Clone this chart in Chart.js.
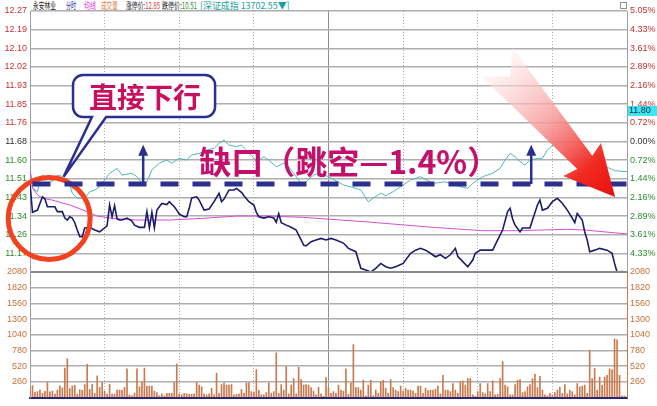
<!DOCTYPE html>
<html>
<head>
<meta charset="utf-8">
<script src="https://cdn.jsdelivr.net/npm/chart.js@4.4.0/dist/chart.umd.min.js"></script>
<style>
html,body{margin:0;padding:0;background:#fff;}
#wrap{position:relative;width:657px;height:406px;overflow:hidden;font-family:"Noto Sans CJK SC","Noto Sans",sans-serif;}
#pc{position:absolute;left:0;top:0;}
#vc{position:absolute;left:0;top:262px;}
.t{position:absolute;top:0;font-size:9.5px;line-height:10px;white-space:nowrap;transform-origin:left top;}
#box{position:absolute;left:620px;top:2px;width:5px;height:5px;border:1px solid #909090;}
</style>
</head>
<body>
<div id="wrap">
  <div class="t" data-w="23" style="left:33px;color:#222">永安林业</div>
  <div class="t" data-w="10" style="left:66px;color:#2a2a9a">分时</div>
  <div class="t" data-w="12" style="left:84px;color:#d83cd8">均线</div>
  <div class="t" data-w="17" style="left:101px;color:#e07a3a">成交量</div>
  <div class="t" data-w="34" style="left:126px;color:#222">涨停价:<span style="color:#e03030">12.85</span></div>
  <div class="t" data-w="35" style="left:162px;color:#222">跌停价:<span style="color:#2a8a2a">10.51</span></div>
  <div class="t" data-w="90" style="left:200px;color:#1aa0a0">[深证成指 13702.55▼]</div>
  <div id="box"></div>
  <canvas id="pc" width="657" height="282"></canvas>
  <canvas id="vc" width="657" height="144"></canvas>
</div>
<script>
// ---- data ----
const prevClose = 11.68;
const priceMin = [0,1,3,5,6,7,10,11,13,14,15,16,17,18,19,20,21,22,24,26,28,30,31,32,33,34,35,36,37,39,41,42,44,46,47,48,49,50,51,52,53,55,56,58,59,60,62,63,64,65,67,68,70,72,74,76,77,78,80,82,83,85,86,88,90,91,92,94,96,98,99,100,101,103,105,107,108,109,110,111,113,115,117,119,121,123,126,128,131,133,135,137,139,141,143,145,147,150,153,155,157,159,161,163,165,167,169,171,172,174,176,178,179,181,186,188,190,192,193,194,195,197,198,201,202,204,205,206,208,210,212,214,216,218,219,220,222,223,224,225,227,229,232,234,235,236,238,240];
const priceVal = [11.49,11.36,11.37,11.43,11.42,11.385,11.385,11.363,11.363,11.334,11.325,11.34,11.334,11.313,11.28,11.25,11.25,11.289,11.292,11.28,11.272,11.289,11.30,11.393,11.34,11.39,11.33,11.325,11.325,11.334,11.32,11.302,11.292,11.292,11.363,11.29,11.36,11.29,11.37,11.385,11.40,11.395,11.408,11.385,11.37,11.352,11.34,11.34,11.378,11.425,11.43,11.415,11.37,11.375,11.408,11.446,11.408,11.42,11.461,11.461,11.468,11.45,11.435,11.408,11.393,11.36,11.34,11.334,11.34,11.334,11.315,11.354,11.313,11.302,11.292,11.28,11.257,11.235,11.212,11.208,11.227,11.235,11.242,11.235,11.242,11.235,11.221,11.197,11.182,11.107,11.099,11.09,11.107,11.129,11.114,11.107,11.114,11.129,11.175,11.189,11.197,11.189,11.175,11.159,11.168,11.152,11.168,11.197,11.16,11.137,11.114,11.144,11.175,11.189,11.189,11.235,11.28,11.363,11.378,11.33,11.302,11.272,11.289,11.289,11.325,11.393,11.415,11.37,11.378,11.408,11.423,11.401,11.37,11.334,11.313,11.354,11.325,11.272,11.235,11.182,11.189,11.197,11.189,11.175,11.129,11.09,11.092,11.09];
const avgMin = [0,1,3,5,9,16,23,27,33,43,56,70,83,96,110,135,162,182,196,216,223,240];
const avgVal = [11.55,11.47,11.44,11.423,11.415,11.393,11.363,11.343,11.333,11.325,11.325,11.333,11.343,11.343,11.337,11.317,11.292,11.277,11.277,11.283,11.28,11.262];
const idxMin = [0,1,3,4,5,7,9,10,12,14,16,17,19,22,24,26,28,32,35,37,41,43,45,47,49,52,55,57,60,63,65,68,71,74,76,78,80,83,85,87,90,91,94,96,99,102,104,107,109,111,114,116,120,126,131,133,136,138,141,143,146,148,153,157,162,167,173,176,178,182,186,189,191,193,195,197,199,201,204,206,208,211,214,217,219,222,225,227,230,233,235,240];
const idxPct = [-1.04,-1.80,-1.94,-1.49,-1.30,-1.42,-1.56,-1.36,-1.30,-1.49,-1.68,-2.00,-2.19,-2.19,-1.95,-1.88,-1.75,-1.23,-1.04,-1.30,-1.23,-1.36,-1.62,-1.56,-1.10,-0.84,-0.72,-0.84,-0.65,-0.72,-0.52,-0.46,-0.33,-0.26,-0.07,0.06,-0.14,-0.20,-0.14,-0.33,-0.65,-0.78,-0.59,-0.72,-0.98,-0.84,-0.98,-1.36,-1.62,-1.56,-1.30,-1.23,-1.36,-1.68,-1.81,-1.88,-2.33,-2.19,-2.00,-2.10,-1.94,-1.81,-1.49,-1.36,-1.62,-1.56,-1.75,-1.81,-1.62,-1.36,-1.23,-1.04,-0.72,-0.46,-0.59,-0.78,-0.91,-0.72,-0.65,-0.65,-0.33,-0.07,-0.01,-0.26,-0.46,-0.59,-0.91,-1.04,-0.91,-1.04,-1.13,-1.17];
const volume = [
  120,200,90,100,130,70,105,250,95,110,60,125,195,160,490,640,150,190,205,60,130,120,215,550,135,220,70,360,170,250,110,60,220,60,60,125,125,125,170,475,45,30,72,475,180,255,490,190,190,190,110,85,30,62,30,72,72,72,250,555,60,
  46,72,62,56,56,62,250,207,180,62,46,62,153,46,405,72,217,240,207,207,217,46,56,62,137,72,244,244,99,90,464,126,46,46,83,244,72,99,743,72,217,126,512,62,207,314,62,502,298,207,217,207,164,110,46,169,62,19,330,164,72,99,72,207,126,110,475,56,244,877,164,164,126,287,30,207,287,30,126,72,260,287,153,72,298,164,126,99,190,110,153,126,126,110,72,190,
  190,72,153,115,126,126,142,190,62,367,126,126,99,233,126,72,260,276,207,314,314,46,19,99,233,83,62,233,99,276,46,56,314,598,207,180,46,46,217,287,298,83,99,180,217,314,384,164,351,126,46,30,72,46,83,126,169,72,217,62,126,99,46,233,180,190,207,72,781,314,486,126,341,207,341,367,475,459,974,958,367,30,25,15
];
const priceTickLabels = ['12.27','12.19','12.10','12.02','11.93','11.85','11.76','11.68','11.60','11.51','11.43','11.34','11.26','11.17',''];
const pctTickLabels = ['5.05%','4.33%','3.61%','2.89%','2.16%','1.44%','0.72%','0.00%','0.72%','1.44%','2.16%','2.89%','3.61%','4.33%',''];
const volTickLabels = ['2080','1820','1560','1300','1040','780','520','260',''];
const lastPrice = 11.80;

// annotation anchors (minute, price)
const gapPrice = 11.488, gapText = '缺口（跳空—1.4%）', gapTextAt = [68, 11.587];
const upArrows = [45.5, 201.5], upArrowTop = 11.665;
const ringAt = [7.7, 11.332];
const bubble = {l: 17.3, r: 74.4, top: 11.981, bottom: 11.791, tail: [24.9, 30.6], tip: [13.5, 11.52], text: '直接下行'};
const bigArrow = {from: [187.7, 12.039], to: [235.2, 11.429]};

// squeeze header texts to the widths seen in the picture
document.querySelectorAll('.t').forEach(el => {
  el.style.transform = 'scaleX(' + (el.dataset.w / el.offsetWidth) + ')';
});

Chart.defaults.font.family = '"Liberation Sans", Arial, sans-serif';
Chart.defaults.font.size = 9;

const hi = prevClose * 1.0505, lo = prevClose * (1 - 0.0505);
const ink = '#2b2f8f';
const evenTicks = n => s => {
  s.ticks = Array.from({length: n + 1}, (_, i) => ({value: s.min + i * (s.max - s.min) / n}));
};
const fix30 = s => { s.width = 30; };
const sideColor = i => i < 7 ? '#c83232' : (i === 7 ? '#303030' : '#2e8b2e');
const xGrid = {
  type: 'linear', min: 0, max: 240, offset: false,
  ticks: {display: false, stepSize: 30},
  grid: {drawTicks: false, offset: false, lineWidth: 1,
    color: c => { const v = c.tick && c.tick.value; return (v === 0 || v === 240) ? 'rgba(0,0,0,0)' : (v === 120 ? '#8e8e8e' : '#b0b0b0'); }},
  border: {display: false, dash: c => (c.tick && c.tick.value === 120) ? [] : [1, 2]}
};

const notes = {
  id: 'notes',
  afterDraw(chart) {
    const {ctx, scales} = chart;
    const X = m => scales.x.getPixelForValue(m), Y = p => scales.y.getPixelForValue(p);
    ctx.save();

    // red ring round the opening drop
    ctx.strokeStyle = '#f2421f'; ctx.lineWidth = 5;
    ctx.beginPath(); ctx.arc(X(ringAt[0]), Y(ringAt[1]), 41, 0, 2 * Math.PI); ctx.stroke();

    // gap level
    const gy = Y(gapPrice);
    ctx.strokeStyle = ink; ctx.lineWidth = 5; ctx.setLineDash([18, 14]);
    ctx.beginPath(); ctx.moveTo(X(1), gy); ctx.lineTo(X(240), gy); ctx.stroke();
    ctx.setLineDash([]);

    // up arrows
    ctx.fillStyle = ink; ctx.lineWidth = 2.5;
    upArrows.forEach(m => {
      const ax = X(m), ty = Y(upArrowTop);
      ctx.beginPath(); ctx.moveTo(ax, gy); ctx.lineTo(ax, ty + 8); ctx.stroke();
      ctx.beginPath(); ctx.moveTo(ax, ty); ctx.lineTo(ax - 5, ty + 11); ctx.lineTo(ax + 5, ty + 11); ctx.closePath(); ctx.fill();
    });

    // gap caption
    ctx.fillStyle = '#c4106c'; ctx.font = 'bold 32px "Noto Sans CJK SC"';
    ctx.textBaseline = 'middle'; ctx.textAlign = 'left';
    ctx.fillText(gapText, X(gapTextAt[0]), Y(gapTextAt[1]));

    // speech bubble
    const l = X(bubble.l), r = X(bubble.r), t = Y(bubble.top), b = Y(bubble.bottom), rad = 10;
    ctx.beginPath();
    ctx.moveTo(l + rad, t); ctx.lineTo(r - rad, t); ctx.arcTo(r, t, r, t + rad, rad);
    ctx.lineTo(r, b - rad); ctx.arcTo(r, b, r - rad, b, rad);
    ctx.lineTo(X(bubble.tail[1]), b); ctx.lineTo(X(bubble.tip[0]), Y(bubble.tip[1])); ctx.lineTo(X(bubble.tail[0]), b);
    ctx.lineTo(l + rad, b); ctx.arcTo(l, b, l, b - rad, rad);
    ctx.lineTo(l, t + rad); ctx.arcTo(l, t, l + rad, t, rad);
    ctx.closePath();
    ctx.fillStyle = '#fff'; ctx.fill();
    ctx.strokeStyle = ink; ctx.lineWidth = 2.5; ctx.stroke();
    ctx.fillStyle = '#c8105e'; ctx.font = 'bold 28px "Noto Sans CJK SC"'; ctx.textAlign = 'center';
    ctx.fillText(bubble.text, (l + r) / 2 + 1, (t + b) / 2 + 1);

    // big red arrow
    const fx = X(bigArrow.from[0]), fy = Y(bigArrow.from[1]), tx = X(bigArrow.to[0]), ty = Y(bigArrow.to[1]);
    const len = Math.hypot(tx - fx, ty - fy), ux = (tx - fx) / len, uy = (ty - fy) / len, nx = -uy, ny = ux;
    const P = (s, w) => [fx + ux * s + nx * w, fy + uy * s + ny * w];
    const shape = [P(0, 21), P(20, 0), P(0, -21), P(len - 46, -10), P(len - 50, -25), P(len, 0), P(len - 50, 25), P(len - 46, 10)];
    const grad = ctx.createLinearGradient(fx, fy, tx, ty);
    grad.addColorStop(0, 'rgba(255,240,240,0.5)');
    grad.addColorStop(0.45, 'rgba(246,150,150,0.85)');
    grad.addColorStop(0.78, '#f02a22');
    grad.addColorStop(1, '#e8100c');
    ctx.beginPath(); shape.forEach((p, i) => i ? ctx.lineTo(p[0], p[1]) : ctx.moveTo(p[0], p[1])); ctx.closePath();
    ctx.fillStyle = grad; ctx.fill();

    // last price tag on the right axis
    const ly = Y(lastPrice);
    ctx.fillStyle = '#3fe3f2'; ctx.fillRect(scales.x.right + 1, ly - 9, 30, 10);
    ctx.fillStyle = '#103040'; ctx.font = '9px "Liberation Sans"'; ctx.textAlign = 'left';
    ctx.fillText(lastPrice.toFixed(2), scales.x.right + 2, ly - 4);
    ctx.restore();
  }
};

new Chart(document.getElementById('pc'), {
  type: 'line',
  data: {datasets: [
    {data: priceMin.map((m, i) => ({x: m, y: priceVal[i]})), borderColor: '#1c1c6a', borderWidth: 1.6, pointRadius: 0, yAxisID: 'y'},
    {data: avgMin.map((m, i) => ({x: m, y: avgVal[i]})), borderColor: '#d64ed6', borderWidth: 1, pointRadius: 0, yAxisID: 'y'},
    {data: idxMin.map((m, i) => ({x: m, y: idxPct[i]})), borderColor: '#4fb8b8', borderWidth: 1, pointRadius: 0, yAxisID: 'pct'}
  ]},
  options: {
    responsive: false, animation: false, events: [],
    layout: {autoPadding: false, padding: {top: 11, bottom: 10, left: 0, right: 0}},
    plugins: {legend: {display: false}, tooltip: {enabled: false}},
    scales: {
      x: xGrid,
      y: {position: 'left', min: lo, max: hi, afterBuildTicks: evenTicks(14), afterFit: fix30,
        ticks: {callback: (v, i) => priceTickLabels[14 - i], color: c => sideColor(14 - c.index), padding: 3},
        grid: {drawTicks: false, lineWidth: 1.5, color: c => c.index === 0 ? 'rgba(0,0,0,0)' : '#aeaeae'},
        border: {color: '#a0a0a0'}},
      pct: {position: 'right', min: -5.05, max: 5.05, afterBuildTicks: evenTicks(14), afterFit: fix30,
        ticks: {callback: (v, i) => pctTickLabels[14 - i], color: c => sideColor(14 - c.index), padding: 3},
        grid: {display: false, drawTicks: false},
        border: {color: '#a0a0a0'}}
    }
  },
  plugins: [notes]
});

const volTicks = {afterBuildTicks: evenTicks(8), afterFit: fix30,
  ticks: {callback: (v, i) => volTickLabels[8 - i], color: '#c8703a', padding: 3}};

new Chart(document.getElementById('vc'), {
  type: 'bar',
  data: {datasets: [{data: volume.map((v, i) => ({x: i, y: v})), backgroundColor: '#c97a4e', barThickness: 1, yAxisID: 'y'}]},
  options: {
    responsive: false, animation: false, events: [],
    layout: {autoPadding: false, padding: {top: 10, bottom: 1, left: 0, right: 0}},
    plugins: {legend: {display: false}, tooltip: {enabled: false}},
    scales: {
      x: Object.assign({}, xGrid, {border: {display: true, color: '#23237a', width: 2, dash: xGrid.border.dash}}),
      y: Object.assign({position: 'left', min: 0, max: 2080,
        grid: {drawTicks: false, lineWidth: c => c.index === 8 ? 2 : 1.5, color: c => c.index === 8 ? '#8a8a8a' : (c.index === 0 ? 'rgba(0,0,0,0)' : '#aeaeae')},
        border: {color: '#a0a0a0'}}, volTicks),
      y2: Object.assign({position: 'right', min: 0, max: 2080,
        grid: {display: false, drawTicks: false}, border: {color: '#c8784a'}}, volTicks)
    }
  }
});
</script>
</body>
</html>
